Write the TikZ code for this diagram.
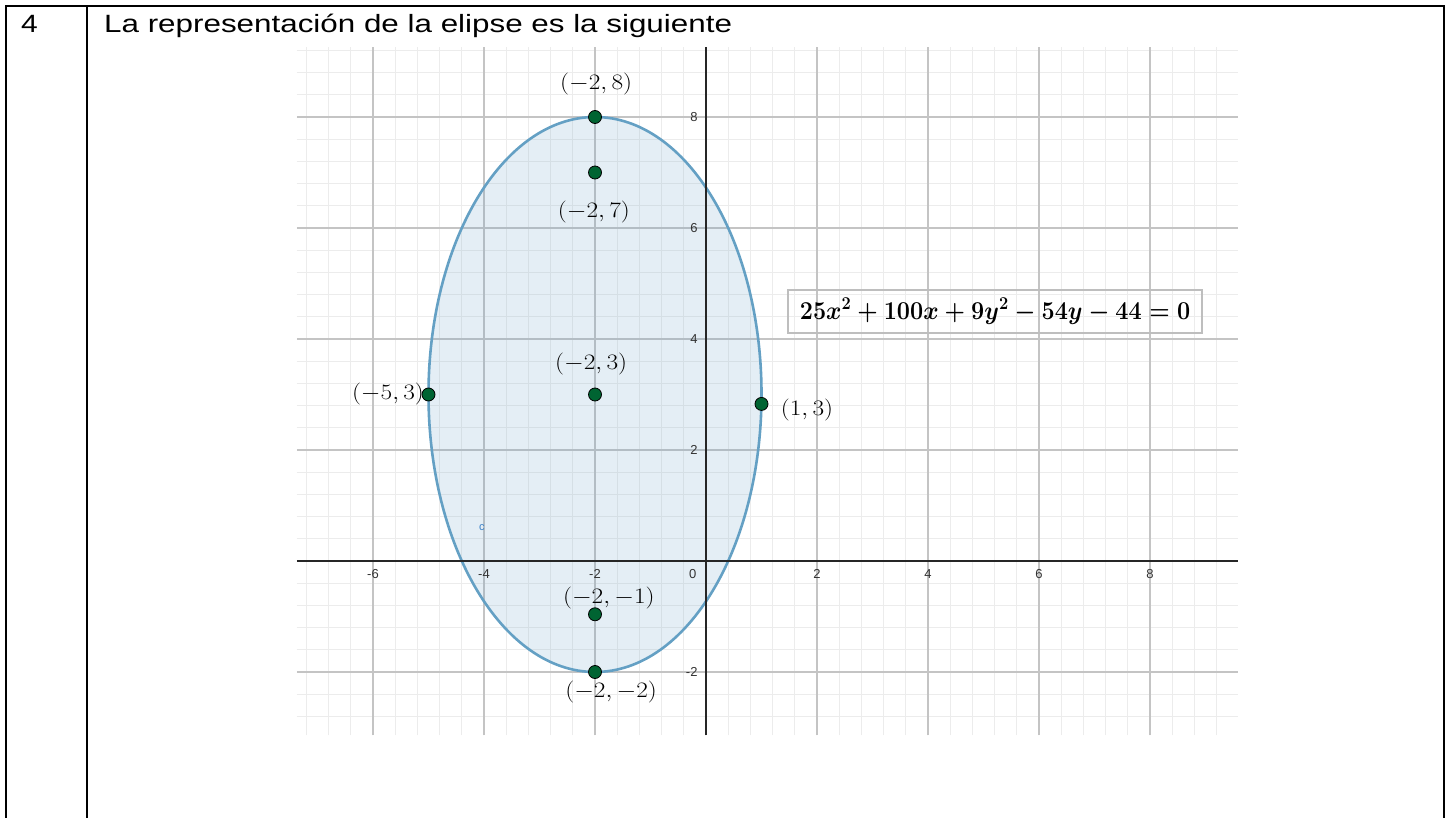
\RequirePackage{fix-cm}
\documentclass[tikz,border=0pt]{standalone}
\usepackage[no-math]{fontspec}
\newfontfamily\arialf{Liberation Sans}
\definecolor{ellline}{RGB}{100,160,196}
\definecolor{dkgreen}{RGB}{0,100,50}
\definecolor{minorgrid}{RGB}{236,236,236}
\definecolor{majorgrid}{RGB}{196,196,196}
\definecolor{boxgray}{RGB}{190,190,190}
\definecolor{cblue}{RGB}{60,130,200}
\newcommand{\eqtext}{{\mathversion{bold}\scalebox{1}[1.1]{$25x^2+100x+9y^2-54y-44=0$}}}
\newcommand{\ptlabel}[1]{\scalebox{1.15}[1]{$#1$}}
\begin{document}
\begin{tikzpicture}[x=1pt,y=-1pt,
  tbl/.style={line width=2.5pt, black},
  headtxt/.style={inner sep=0pt, anchor=base west, font=\arialf\fontsize{25}{30}\selectfont},
  minorline/.style={minorgrid, line width=1pt},
  majorline/.style={majorgrid, line width=1.2pt},
  axisline/.style={black!85, line width=1.3pt},
  ell/.style={draw=ellline, line width=2.6pt, fill=ellline, fill opacity=0.17},
  ptdot/.style={circle, minimum size=13pt, inner sep=0pt, fill=dkgreen, draw=black, line width=0.8pt},
  lbl/.style={inner sep=0pt, font=\fontsize{22}{26}\selectfont},
  tick/.style={inner sep=0pt, font=\arialf\fontsize{13}{15}\selectfont, text=black!80},
  eqbox/.style={draw=boxgray, line width=2pt, minimum width=414pt, minimum height=43pt, inner sep=0pt, font=\fontsize{23.4}{27}\selectfont}
]
\useasboundingbox (0,0) rectangle (1448,818);
\fill[white] (0,0) rectangle (1448,818);
% table
\draw[tbl] (6,818) -- (6,6) -- (1444,6) -- (1444,818);
\draw[tbl] (87,6) -- (87,818);
\node[headtxt] (num) at (21,33) {\scalebox{1.2}[1]{4}};
\node[headtxt] (title) at (104,33) {\scalebox{1.255}[1]{La representación de la elipse es la siguiente}};
% graph
\begin{scope}[shift={(706,561)}, x=55.5pt, y=55.5pt]
  \foreach \i in {-18,...,23} {\draw[minorline] (\i*0.4,-3.14) -- (\i*0.4,9.26);}
  \foreach \j in {-7,...,23} {\draw[minorline] (-7.37,\j*0.4) -- (9.59,\j*0.4);}
  \foreach \i in {-6,-4,-2,2,4,6,8} {\draw[majorline] (\i,-3.14) -- (\i,9.26);}
  \foreach \j in {-2,2,4,6,8} {\draw[majorline] (-7.37,\j) -- (9.59,\j);}
  \draw[ell] (-2,3) ellipse [x radius=3, y radius=5];
  \draw[axisline] (-7.37,0) -- (9.59,0);
  \draw[axisline] (0,-3.14) -- (0,9.26);
  \foreach \i in {-6,-4,-2,2,4,6,8} {\node[tick] (tx\i) at (\i,-0.24) {\i};}
  \node[tick] (t0) at (-0.24,-0.24) {0};
  \foreach \j in {-2,2,4,6,8} {\node[tick, anchor=east] (ty\j) at (-0.15,\j) {\j};}
  \node[inner sep=0pt, text=cblue, font=\arialf\fontsize{11}{13}\selectfont] (clbl) at (-4.04,0.61) {c};
  % points
  \node[ptdot] (V1) at (-2,8) {};
  \node[ptdot] (F1) at (-2,7) {};
  \node[ptdot] (C) at (-2,3) {};
  \node[ptdot] (W1) at (-5,3) {};
  \node[ptdot] (W2) at (1,2.83) {};
  \node[ptdot] (F2) at (-2,-0.96) {};
  \node[ptdot] (V2) at (-2,-2) {};
  % labels
  \node[lbl] (lV1) at (-1.98,8.59) {\ptlabel{(-2,8)}};
  \node[lbl] (lF1) at (-2.02,6.29) {\ptlabel{(-2,7)}};
  \node[lbl] (lC) at (-2.07,3.55) {\ptlabel{(-2,3)}};
  \node[lbl] (lW1) at (-5.73,3.01) {\ptlabel{(-5,3)}};
  \node[lbl] (lW2) at (1.82,2.72) {\ptlabel{(1,3)}};
  \node[lbl] (lF2) at (-1.75,-0.67) {\ptlabel{(-2,-1)}};
  \node[lbl] (lV2) at (-1.71,-2.36) {\ptlabel{(-2,-2)}};
  \node[eqbox] (eqn) at (5.21,4.50) {\eqtext};
\end{scope}
\end{tikzpicture}
\end{document}
